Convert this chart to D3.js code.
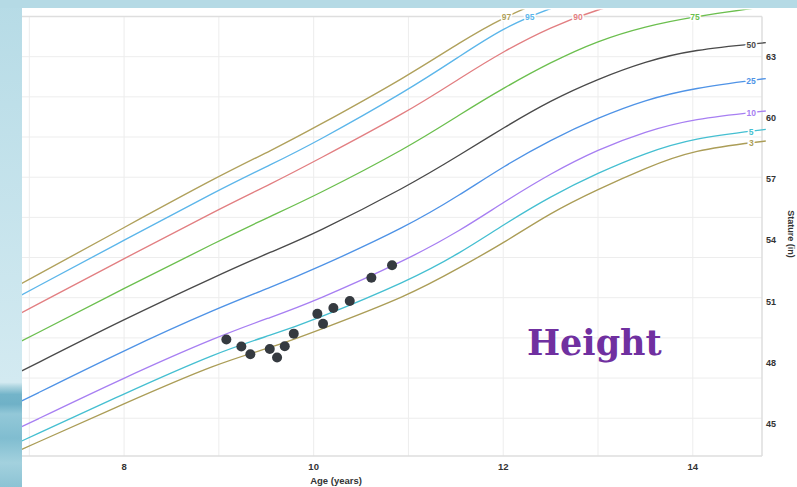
<!DOCTYPE html>
<html><head><meta charset="utf-8">
<script src="https://cdn.jsdelivr.net/npm/d3@7"></script>
<style>
html,body{margin:0;padding:0;background:#fff;}
svg{display:block;}
</style></head>
<body>
<svg id="chart" width="797" height="487"></svg>
<script>
// ---------- data (heights in inches, ages in years) ----------
const ages = [6.92, 8, 9, 9.56, 10, 11, 11.55, 12, 12.5, 13, 13.5, 14, 14.77];
const p97 = [51.88, 54.62, 57.15, 58.41, 59.48, 62.06, 63.72, 64.92, 65.9, 66.6, 67.1, 67.4, 67.6];
const p95 = [51.32, 54.00, 56.47, 57.73, 58.74, 61.36, 63.04, 64.40, 65.4, 66.1, 66.6, 66.9, 67.1];
const p90 = [50.45, 53.10, 55.52, 56.78, 57.84, 60.31, 61.96, 63.25, 64.45, 65.33, 65.9, 66.3, 66.5];
const p75 = [49.06, 51.64, 53.97, 55.21, 56.14, 58.55, 60.18, 61.45, 62.72, 63.78, 64.48, 64.95, 65.45];
const p50 = [47.59, 50.13, 52.30, 53.45, 54.29, 56.66, 58.20, 59.50, 60.85, 61.90, 62.76, 63.33, 63.68];
const p25 = [46.12, 48.61, 50.70, 51.71, 52.56, 54.70, 56.24, 57.61, 58.92, 60.00, 60.88, 61.45, 61.92];
const p10 = [44.86, 47.27, 49.31, 50.24, 50.99, 53.07, 54.48, 55.85, 57.27, 58.45, 59.33, 59.95, 60.33];
const p5  = [44.16, 46.48, 48.54, 49.36, 50.08, 52.00, 53.38, 54.75, 56.15, 57.30, 58.27, 59.00, 59.43];
const p3  = [43.75, 45.99, 48.00, 48.74, 49.50, 51.27, 52.68, 53.85, 55.35, 56.50, 57.53, 58.43, 58.86];

const percentiles = ["97", "95", "90", "75", "50", "25", "10", "5", "3"];
const seriesValues = [p97, p95, p90, p75, p50, p25, p10, p5, p3];
const colors = ["#b0a15c", "#5cb6ea", "#e27f82", "#6cbf4f", "#4a4a4a", "#4f93e6", "#a77ff2", "#45bfd1", "#ab9d57"];

// patient measurements
const visitAges    = [9.079, 9.237, 9.332, 9.537, 9.614, 9.695, 9.790, 10.039, 10.099, 10.208, 10.381, 10.609, 10.827];
const visitHeights = [49.13, 48.79, 48.41, 48.67, 48.25, 48.80, 49.42, 50.39, 49.90, 50.68, 51.02, 52.16, 52.77];

const xTickAges = [8, 10, 12, 14];
const xGridAges = [7, 8, 9, 10, 11, 12, 13, 14];
const yTickInches = [45, 48, 51, 54, 57, 60, 63];
const yGridCm = [115, 120, 125, 130, 135, 140, 145, 150, 155, 160];

// ---------- layout ----------
const W = 797, H = 487;
const panelLeft = 22, plotRight = 762, plotTop = 16.5, plotBottom = 456;
const svg = d3.select("#chart");

const x = d3.scaleLinear().domain([7, 14.73]).range([29.3, plotRight]);
const yCm = d3.scaleLinear().domain([110.3, 165]).range([plotBottom, plotTop]);
const yIn = v => yCm(v * 2.54);

// ---------- background ----------
const defs = svg.append("defs");
const lg = defs.append("linearGradient").attr("id", "leftbg").attr("x1", 0).attr("y1", 0).attr("x2", 0).attr("y2", 1);
lg.append("stop").attr("offset", "0%").attr("stop-color", "#b6dbe6");
lg.append("stop").attr("offset", "78.5%").attr("stop-color", "#d3eaf1");
lg.append("stop").attr("offset", "79.5%").attr("stop-color", "#a9d2de");
lg.append("stop").attr("offset", "81%").attr("stop-color", "#73b4c9");
lg.append("stop").attr("offset", "83%").attr("stop-color", "#6fb1c7");
lg.append("stop").attr("offset", "85%").attr("stop-color", "#93c8d8");
lg.append("stop").attr("offset", "90%").attr("stop-color", "#80bdd0");
lg.append("stop").attr("offset", "95%").attr("stop-color", "#a3d1de");
lg.append("stop").attr("offset", "100%").attr("stop-color", "#8cc3d4");

svg.append("rect").attr("x", 0).attr("y", 0).attr("width", W).attr("height", H).attr("fill", "#ffffff");
svg.append("rect").attr("x", 0).attr("y", 0).attr("width", panelLeft).attr("height", H).attr("fill", "url(#leftbg)");

// ---------- grid ----------
const grid = svg.append("g");
grid.selectAll("line.h").data(yGridCm).join("line")
  .attr("x1", panelLeft).attr("x2", plotRight)
  .attr("y1", d => yCm(d)).attr("y2", d => yCm(d))
  .attr("stroke", "#ededed").attr("stroke-width", 1);
grid.selectAll("line.v").data(xGridAges).join("line")
  .attr("x1", d => x(d)).attr("x2", d => x(d))
  .attr("y1", plotTop).attr("y2", plotBottom)
  .attr("stroke", "#ededed").attr("stroke-width", 1);

// frame
const frame = svg.append("g").attr("stroke", "#dedede").attr("stroke-width", 1.5).attr("fill", "none");
frame.append("line").attr("x1", panelLeft).attr("x2", plotRight).attr("y1", plotTop).attr("y2", plotTop);
frame.append("line").attr("x1", plotRight).attr("x2", plotRight).attr("y1", plotTop).attr("y2", plotBottom);
frame.append("line").attr("x1", panelLeft).attr("x2", plotRight).attr("y1", plotBottom).attr("y2", plotBottom);

// ---------- curves ----------
defs.append("clipPath").attr("id", "clip").append("rect")
  .attr("x", panelLeft).attr("y", 9.5).attr("width", W - panelLeft).attr("height", plotBottom - 9.5);

const line = d3.line().x(d => x(d[0])).y(d => yIn(d[1])).curve(d3.curveBasis);
const curvesG = svg.append("g").attr("clip-path", "url(#clip)");
const labelsG = svg.append("g");

seriesValues.forEach((vals, i) => {
  const pts = ages.map((a, k) => [a, vals[k]]);
  const path = curvesG.append("path").datum(pts)
    .attr("d", line).attr("fill", "none")
    .attr("stroke", colors[i]).attr("stroke-width", 1.35);
  // label where the curve leaves the plot (top edge or near right edge)
  const node = path.node();
  const L = node.getTotalLength();
  let pos = node.getPointAtLength(L);
  for (let s = 0; s <= L; s += 0.5) {
    const p = node.getPointAtLength(s);
    if (p.y <= plotTop + 0.5 || p.x >= plotRight - 11) { pos = p; break; }
  }
  labelsG.append("text")
    .attr("x", pos.x).attr("y", pos.y + 0.5)
    .attr("text-anchor", "middle").attr("dominant-baseline", "central")
    .attr("font-family", "Liberation Sans, Arial, sans-serif")
    .attr("font-size", 8.5).attr("font-weight", "bold")
    .attr("fill", colors[i])
    .attr("stroke", "#ffffff").attr("stroke-width", 3).attr("paint-order", "stroke")
    .text(percentiles[i]);
});

// ---------- measurements ----------
svg.append("g").selectAll("circle").data(visitAges).join("circle")
  .attr("cx", d => x(d))
  .attr("cy", (d, i) => yIn(visitHeights[i]))
  .attr("r", 5).attr("fill", "#353a40");

// ---------- axes text ----------
svg.append("g").selectAll("text").data(xTickAges).join("text")
  .attr("x", d => x(d)).attr("y", 469.5)
  .attr("text-anchor", "middle")
  .attr("font-family", "Liberation Sans, Arial, sans-serif")
  .attr("font-size", 9.5).attr("font-weight", "bold").attr("fill", "#333")
  .text(d => d);

svg.append("g").selectAll("text").data(yTickInches).join("text")
  .attr("x", 766).attr("y", d => yIn(d) + 3.3)
  .attr("text-anchor", "start")
  .attr("font-family", "Liberation Sans, Arial, sans-serif")
  .attr("font-size", 9).attr("font-weight", "bold").attr("fill", "#333")
  .text(d => d);

svg.append("text")
  .attr("x", 336).attr("y", 483.5).attr("text-anchor", "middle")
  .attr("font-family", "Liberation Sans, Arial, sans-serif")
  .attr("font-size", 9.5).attr("font-weight", "bold").attr("fill", "#333")
  .text("Age (years)");

svg.append("text")
  .attr("transform", "translate(788,234) rotate(90)")
  .attr("text-anchor", "middle")
  .attr("font-family", "Liberation Sans, Arial, sans-serif")
  .attr("font-size", 9).attr("font-weight", "bold").attr("fill", "#333")
  .text("Stature (in)");

svg.append("text")
  .attr("x", 527).attr("y", 355)
  .attr("font-family", "DejaVu Serif, serif")
  .attr("font-size", 35).attr("font-weight", "bold").attr("fill", "#7030a0")
  .text("Height");

// top bar
svg.append("rect").attr("x", 0).attr("y", 0).attr("width", W).attr("height", 8).attr("fill", "#b5dae5");
</script>
</body></html>
